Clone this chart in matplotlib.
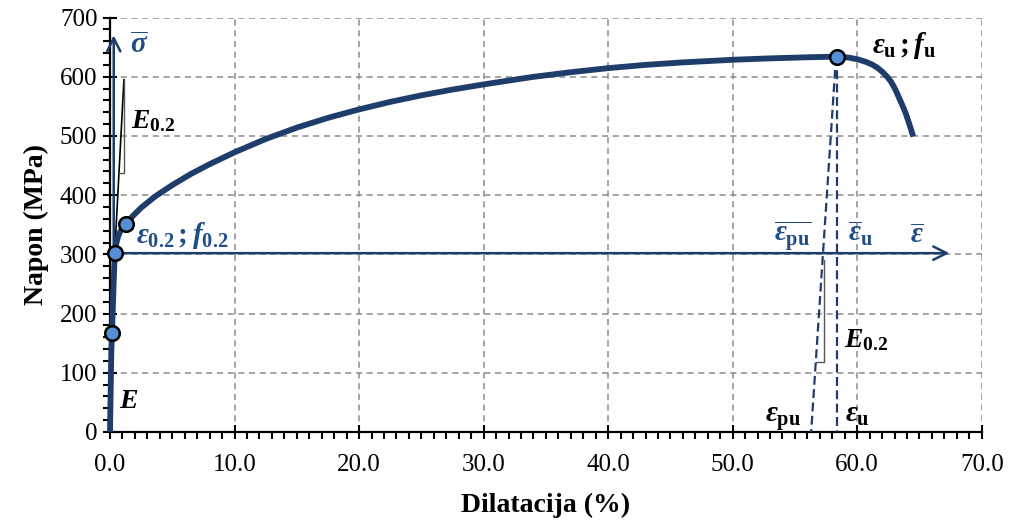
import matplotlib
matplotlib.use("Agg")
import matplotlib.pyplot as plt
from matplotlib.ticker import MultipleLocator, FormatStrFormatter

# stress-strain curve (strain in %, stress in MPa)
strain = [0, 0.11, 0.16, 0.38, 0.5, 0.65, 0.8, 1.0, 1.26, 1.8, 2.5, 3.6, 5, 6.5, 8,
          10, 12.5, 15, 17.5, 20, 22.5, 25, 27.5, 30, 33.9, 37, 40, 43, 46, 50, 53,
          56, 58.4, 59.3, 60, 60.7, 61.2, 61.6, 62, 62.4, 62.7, 63, 63.2, 63.6, 63.9,
          64.2, 64.5]
stress = [0, 138, 168, 302, 318, 330, 337.5, 344.5, 351, 364, 378.7, 397.4, 417,
          435.8, 452.3, 472.3, 494.8, 514, 530.5, 544.8, 557.5, 568.5, 578.3, 587,
          599.5, 607.6, 614.5, 620, 624.2, 628.6, 631, 632.8, 634, 632.3, 629.6,
          625, 620.5, 615.5, 608.6, 600, 592, 581, 572, 553, 538, 519, 499]

# marked points: E, f0.2 on the offset line, end of yield knee, ultimate
pts_x = [0.16, 0.38, 1.26, 58.4]
pts_y = [168, 302, 351, 634]

# true-stress / true-strain axes
sig_axis_x = [0.3, 0.3]
sig_axis_y = [302, 670]
eps_axis_x = [0.38, 67.4]
eps_axis_y = [302, 302]

# E0.2 tangent + slope triangle near origin
e02_x = [0.38, 1.12]
e02_y = [302, 595]
tri1_x = [1.12, 1.12, 0.72]
tri1_y = [595, 438, 438]

# unloading lines from ultimate point
unl_v_x = [58.4, 58.4]
unl_v_y = [634, 0]
unl_i_x = [58.3, 56.3]
unl_i_y = [634, 0]
tri2_x = [57.3, 57.3, 56.67]
tri2_y = [290, 118, 118]

navy = "#1F3D6B"
txt_blue = "#1F4E86"
mfill = "#558ED5"

plt.rcParams["font.family"] = "Liberation Serif"
plt.rcParams["mathtext.fontset"] = "custom"
plt.rcParams["mathtext.rm"] = "Liberation Serif:bold"
plt.rcParams["mathtext.it"] = "Liberation Serif:italic:bold"
plt.rcParams["mathtext.bf"] = "Liberation Serif:bold"

fig = plt.figure(figsize=(10.09, 5.24), dpi=100)
ax = fig.add_axes([0.109, 0.1756, 0.864, 0.791])

ax.set_xlim(0, 70)
ax.set_ylim(0, 700)
ax.xaxis.set_major_locator(MultipleLocator(10))
ax.xaxis.set_minor_locator(MultipleLocator(1))
ax.yaxis.set_major_locator(MultipleLocator(100))
ax.yaxis.set_minor_locator(MultipleLocator(20))
ax.xaxis.set_major_formatter(FormatStrFormatter("%.1f"))
ax.tick_params(which="major", direction="inout", length=10, width=1.5, labelsize=18)
ax.tick_params(which="minor", direction="out", length=5, width=1.5)
ax.tick_params(axis="x", which="major", pad=11)
ax.tick_params(axis="y", which="major", pad=4)

ax.grid(True, which="major", color="#8C8C8C", linestyle=(0, (4, 3)), linewidth=1.1)
ax.set_axisbelow(True)
for s in ["top", "right"]:
    ax.spines[s].set_visible(False)
for s in ["left", "bottom"]:
    ax.spines[s].set_linewidth(1.6)

ax.set_xlabel("Dilatacija (%)", fontsize=20, fontweight="bold", labelpad=12)
ax.set_ylabel("Napon (MPa)", fontsize=20, fontweight="bold", labelpad=8)

# thin helper lines
ax.plot(e02_x, e02_y, color="black", lw=1.2, zorder=3)
ax.plot(tri1_x, tri1_y, color="#555555", lw=1.0, zorder=3)
ax.plot(tri2_x, tri2_y, color="#555555", lw=1.0, zorder=3)

# unloading
ax.plot(unl_v_x, unl_v_y, color=navy, lw=1.6, ls=(0, (4, 2)), zorder=3)
ax.plot(unl_i_x, unl_i_y, color=navy, lw=1.6, ls=(0, (4, 2)), zorder=3)

# true axes with arrows
ax.annotate("", xy=(sig_axis_x[1], sig_axis_y[1]), xytext=(sig_axis_x[0], sig_axis_y[0]),
            arrowprops=dict(arrowstyle="->", color=navy, lw=1.8, mutation_scale=24,
                            shrinkA=0, shrinkB=0), zorder=3)
ax.annotate("", xy=(eps_axis_x[1], eps_axis_y[1]), xytext=(eps_axis_x[0], eps_axis_y[0]),
            arrowprops=dict(arrowstyle="->", color=navy, lw=1.8, mutation_scale=24,
                            shrinkA=0, shrinkB=0), zorder=3)

# main curve
ax.plot(strain, stress, color=navy, lw=4.2, solid_capstyle="butt",
        solid_joinstyle="round", zorder=4, clip_on=False)
ax.plot(pts_x, pts_y, "o", ms=10.5, mfc=mfill, mec="black", mew=1.8, zorder=5, clip_on=False)

fs = 20
fe = 21
ax.text(1.6, 640, r"$\overline{\sigma}$", color=txt_blue, fontsize=fe, va="baseline")
ax.text(1.72, 513, r"$E_{\mathrm{0.2}}$", color="black", fontsize=fs, va="baseline")
ax.text(2.06, 320, r"$\varepsilon_{\mathrm{0.2}}\,;f_{\mathrm{0.2}}$", color=txt_blue,
        fontsize=fe, va="baseline")
ax.text(0.72, 40, r"$E$", color="black", fontsize=fs, va="baseline")
ax.text(61.2, 640, r"$\varepsilon_{\mathrm{u}}\,;f_{\mathrm{u}}$", color="black",
        fontsize=fe, va="baseline")
ax.text(53.3, 321, r"$\overline{\varepsilon_{\mathrm{pu}}}$", color=txt_blue,
        fontsize=fe, va="baseline")
ax.text(59.26, 321, r"$\overline{\varepsilon}_{\mathrm{u}}$", color=txt_blue,
        fontsize=fe, va="baseline")
ax.text(64.27, 319, r"$\overline{\varepsilon}$", color=txt_blue, fontsize=fe, va="baseline")
ax.text(58.9, 144, r"$E_{\mathrm{0.2}}$", color="black", fontsize=fs, va="baseline")
ax.text(52.6, 17, r"$\varepsilon_{\mathrm{pu}}$", color="black", fontsize=fe, va="baseline")
ax.text(59.05, 17, r"$\varepsilon_{\mathrm{u}}$", color="black", fontsize=fe, va="baseline")

fig.savefig("out.png", dpi=100)
